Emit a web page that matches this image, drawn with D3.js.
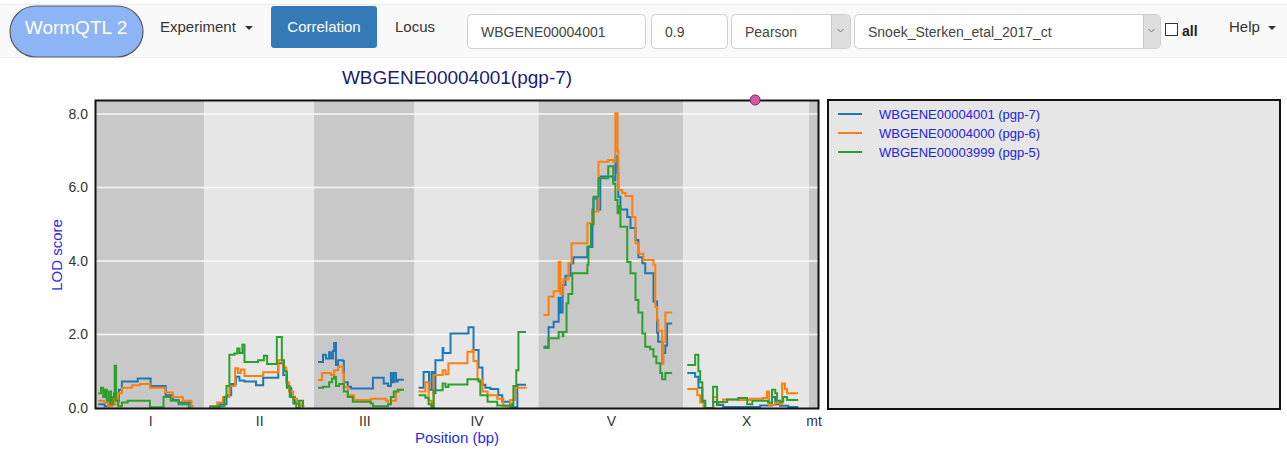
<!DOCTYPE html>
<html>
<head>
<meta charset="utf-8">
<script src="https://cdn.jsdelivr.net/npm/d3@7"></script>
<style>
  html, body { margin: 0; padding: 0; background: #ffffff; }
  svg { display: block; font-family: "Liberation Sans", Arial, sans-serif; }
</style>
</head>
<body>
<svg id="chart" width="1287" height="449"></svg>
<script>
// ---------------- DATA ----------------
const chromNames = ["I", "II", "III", "IV", "V", "X", "mt"];
const chromLengths = [15.07, 15.28, 14.0, 17.25, 20.15, 17.5, 1.25]; // Mb (display lengths)
const yTicks = [0, 2, 4, 6, 8];
const yTickLabels = ["0.0", "2.0", "4.0", "6.0", "8.0"];
const seriesLabels = ["WBGENE00004001 (pgp-7)", "WBGENE00004000 (pgp-6)", "WBGENE00003999 (pgp-5)"];
const seriesColors = ["#1f77b4", "#ff7f0e", "#2ca02c"];
const titleText = "WBGENE00004001(pgp-7)";
const markerChrom = "X";
const markerPos = 10.0; // Mb on chromosome X

// LOD profiles per chromosome: [position within chromosome (Mb), LOD]
const lodPgp7 = [
  [[0.3,0.1],[1.2,0.05],[1.8,0.3],[2.1,0.1],[2.5,0.4],[2.8,0.2],[3.2,0.5],[3.6,0.72],[5.8,0.8],[7.6,0.6],[9.7,0.35],[10.7,0.22],[11.5,0.15],[13.2,0.05],[13.5,0.05]],
  [[0.7,0.02],[2.1,0.1],[3.1,0.35],[3.75,0.65],[4.4,0.85],[4.9,0.75],[5.6,0.72],[7.2,0.62],[8.2,0.82],[10.3,1.22],[11.0,0.9],[11.5,0.55],[12.1,0.3],[12.6,0.12],[13.2,0.05],[13.9,0.05]],
  [[0.55,1.25],[1.25,1.45],[1.65,1.35],[2.1,1.52],[2.35,1.35],[2.65,1.55],[2.8,1.77],[3.05,1.17],[3.35,1.3],[4.0,1.28],[4.15,0.7],[4.7,0.58],[5.15,0.53],[8.2,0.82],[9.7,0.67],[10.3,0.6],[10.7,0.95],[10.9,0.7],[11.1,0.95],[11.4,0.72],[11.65,0.77],[12.5,0.77]],
  [[0.55,0.55],[1.25,0.98],[2.0,0.5],[2.35,0.98],[2.65,0.4],[2.9,1.3],[3.9,1.63],[4.0,1.5],[5.0,2.03],[7.5,2.2],[8.2,1.58],[8.9,1.1],[9.45,0.63],[9.85,0.55],[10.55,0.52],[11.65,0.35],[12.2,0.17],[13.3,0.1],[13.6,0.02],[14.3,0.63],[15.5,0.63]],
  [[0.7,1.67],[1.4,2.2],[2.1,2.35],[2.8,3.0],[3.05,2.6],[3.35,3.35],[3.75,3.6],[4.45,3.94],[4.85,4.1],[6.8,4.38],[7.5,5.4],[7.65,5.7],[8.2,5.4],[8.6,6.3],[10.4,6.2],[10.7,6.85],[11.0,6.4],[11.1,5.75],[11.4,5.4],[12.35,5.2],[12.8,4.9],[13.5,4.57],[13.9,4.1],[14.45,3.94],[14.85,3.67],[16.0,2.9],[16.5,2.05],[16.65,1.8],[17.2,1.22],[17.35,1.5],[17.65,1.7],[17.9,2.3],[18.6,2.3]],
  [[0.55,0.95],[1.65,0.85],[2.1,0.55],[2.65,0.2],[3.05,0.0],[4.15,0.16],[4.7,0.08],[5.55,0.03],[10.7,0.07],[12.35,0.3],[12.8,0.1],[13.45,0.06],[14.6,0.03],[16.0,0.03]],
  []
];
const lodPgp6 = [
  [[0.3,0.2],[1.1,0.15],[1.7,0.05],[2.2,0.3],[2.6,0.1],[3.1,0.4],[3.6,0.55],[5.0,0.62],[6.1,0.65],[7.5,0.55],[9.6,0.42],[10.7,0.3],[12.1,0.2],[13.3,0.05],[13.6,0.05]],
  [[0.7,0.03],[1.8,0.15],[2.6,0.3],[3.5,0.6],[4.3,1.08],[4.7,0.95],[5.1,1.05],[5.6,0.87],[8.2,0.97],[10.3,1.3],[11.0,1.1],[11.4,0.7],[11.8,0.45],[12.4,0.25],[12.9,0.12],[13.5,0.05],[13.9,0.05]],
  [[0.55,0.76],[1.1,0.95],[2.35,0.9],[2.8,1.03],[3.35,1.12],[4.0,0.95],[4.15,0.58],[4.7,0.35],[5.55,0.22],[7.9,0.25],[10.0,0.2],[10.3,0.1],[10.7,0.2],[11.4,0.45],[11.8,0.5],[12.5,0.5]],
  [[0.55,0.45],[1.5,0.7],[1.95,0.2],[2.35,0.05],[2.65,0.9],[3.9,1.03],[4.3,0.92],[4.7,1.22],[7.35,1.53],[8.05,1.58],[8.2,1.28],[8.75,0.76],[9.45,0.45],[10.15,0.35],[11.5,0.25],[12.35,0.05],[13.3,0.22],[14.0,0.55],[15.6,0.55]],
  [[0.7,2.53],[1.4,3.03],[2.1,3.18],[2.8,3.97],[3.05,3.1],[3.45,3.5],[4.15,3.94],[4.6,4.48],[6.8,5.03],[7.65,5.35],[8.35,6.7],[9.7,6.75],[10.4,6.7],[10.7,8.02],[11.0,7.0],[11.1,5.93],[11.65,5.85],[12.1,5.77],[13.05,5.2],[13.5,4.48],[13.9,4.2],[14.6,4.03],[16.0,3.9],[16.25,2.75],[16.5,2.4],[16.65,2.1],[17.2,1.2],[17.35,1.8],[17.65,2.6],[18.6,2.6]],
  [[0.55,0.52],[1.95,0.35],[2.35,0.15],[2.8,0.0],[4.15,0.3],[4.7,0.15],[5.55,0.23],[7.65,0.22],[9.3,0.25],[11.1,0.27],[11.65,0.45],[11.95,0.08],[12.8,0.15],[13.45,0.1],[13.75,0.67],[14.15,0.52],[14.45,0.4],[16.0,0.4]],
  []
];
const lodPgp5 = [
  [[0.3,0.4],[0.7,0.55],[1.0,0.3],[1.25,0.5],[1.5,0.2],[1.8,0.45],[2.1,0.1],[2.4,0.3],[2.6,1.15],[2.8,0.2],[3.1,0.05],[3.6,0.15],[4.4,0.2],[7.5,0.02],[9.4,0.3],[10.4,0.2],[11.5,0.1],[12.9,0.0],[13.2,0.0]],
  [[0.7,0.05],[2.4,0.05],[2.8,0.3],[3.1,0.6],[3.5,1.45],[4.2,1.48],[4.6,1.62],[4.9,1.5],[5.3,1.72],[5.6,1.25],[7.5,1.3],[8.3,1.42],[8.75,1.2],[10.1,1.93],[10.8,1.3],[11.1,1.0],[11.5,0.6],[11.9,0.3],[12.4,0.12],[12.8,0.0],[13.2,0.2],[13.75,0.05],[13.9,0.05]],
  [[0.55,0.55],[1.25,0.58],[2.1,0.7],[2.5,0.8],[2.8,0.85],[3.05,0.6],[3.5,0.65],[4.15,0.45],[4.7,0.3],[5.4,0.17],[7.9,0.12],[8.2,0.05],[10.3,0.1],[10.7,0.3],[11.1,0.45],[11.65,0.5],[12.5,0.5]],
  [[0.55,0.35],[1.5,0.28],[1.95,0.1],[2.35,0.0],[2.65,0.48],[3.9,0.67],[4.3,0.57],[4.7,0.64],[7.35,0.78],[8.9,0.72],[9.15,0.35],[10.15,0.17],[11.5,0.07],[13.3,0.02],[13.75,0.6],[14.15,1.03],[14.45,2.07],[15.5,2.07]],
  [[0.7,1.63],[1.4,1.9],[2.8,2.07],[3.35,1.95],[3.45,2.07],[3.9,2.85],[4.15,3.1],[4.7,3.67],[6.8,3.9],[6.95,4.4],[7.3,5.0],[7.65,5.75],[8.35,6.25],[9.7,6.58],[10.4,6.1],[10.7,5.66],[11.0,5.3],[11.1,5.5],[11.4,4.93],[12.35,3.97],[12.8,3.67],[13.5,2.94],[13.9,2.6],[14.45,2.03],[14.85,1.67],[15.55,1.6],[16.0,1.4],[16.4,1.22],[16.95,0.95],[17.2,0.78],[17.65,0.95],[18.6,0.95]],
  [[0.55,1.17],[1.65,1.45],[2.1,1.0],[2.35,0.7],[2.65,0.17],[3.05,0.0],[4.15,0.58],[4.7,0.1],[4.85,0.16],[6.1,0.23],[7.65,0.27],[8.9,0.1],[9.6,0.2],[11.8,0.15],[12.35,0.5],[12.8,0.4],[13.05,0.2],[13.45,0.17],[13.9,0.3],[14.45,0.22],[16.0,0.22]],
  []
];
const seriesData = [lodPgp7, lodPgp6, lodPgp5];

// ---------------- LAYOUT ----------------
const svg = d3.select("#chart");
const W = 1287, H = 449;
const plot = { left: 96, right: 818, top: 101, bottom: 408 };

// ---------------- NAVBAR ----------------
const nav = svg.append("g");
nav.append("rect").attr("x", 0).attr("y", 4).attr("width", W).attr("height", 54).attr("fill", "#f9f9f9");
nav.append("line").attr("x1", 0).attr("x2", W).attr("y1", 4.5).attr("y2", 4.5).attr("stroke", "#ececec");
nav.append("line").attr("x1", 0).attr("x2", W).attr("y1", 57.5).attr("y2", 57.5).attr("stroke", "#ececec");

nav.append("rect").attr("x", 10).attr("y", 6).attr("width", 133).attr("height", 51).attr("rx", 26).attr("ry", 25.5)
  .attr("fill", "#8db4f5").attr("stroke", "#5a5a66").attr("stroke-width", 1.2);
nav.append("text").attr("x", 76).attr("y", 34).attr("text-anchor", "middle").attr("fill", "#ffffff")
  .attr("font-size", 19).text("WormQTL 2");

nav.append("text").attr("x", 160).attr("y", 32).attr("fill", "#333").attr("font-size", 15).text("Experiment");
nav.append("path").attr("d", "M245,26 l8,0 l-4,4 z").attr("fill", "#333");

nav.append("rect").attr("x", 271).attr("y", 6).attr("width", 106).attr("height", 42).attr("rx", 3).attr("fill", "#337ab7");
nav.append("text").attr("x", 324).attr("y", 32).attr("text-anchor", "middle").attr("fill", "#fff").attr("font-size", 15).text("Correlation");

nav.append("text").attr("x", 395).attr("y", 32).attr("fill", "#333").attr("font-size", 15).text("Locus");

function box(x, w, txt, arrowW) {
  nav.append("rect").attr("x", x + 0.5).attr("y", 14.5).attr("width", w).attr("height", 34).attr("rx", 4)
    .attr("fill", "#fff").attr("stroke", "#cfcfcf");
  if (arrowW) {
    nav.append("rect").attr("x", x + w - arrowW + 0.5).attr("y", 15).attr("width", arrowW - 0.5).attr("height", 33)
      .attr("fill", "#dedede");
    nav.append("line").attr("x1", x + w - arrowW + 0.5).attr("x2", x + w - arrowW + 0.5).attr("y1", 15).attr("y2", 48).attr("stroke", "#c6c6c6");
    nav.append("path").attr("d", `M${x + w - arrowW / 2 - 3},29 l3,3 l3,-3`).attr("fill", "none").attr("stroke", "#777");
  }
  nav.append("text").attr("x", x + 14).attr("y", 37).attr("fill", "#444").attr("font-size", 14).text(txt);
}
box(467, 178, "WBGENE00004001", 0);
box(651, 76, "0.9", 0);
box(731, 119, "Pearson", 19);
box(854, 306, "Snoek_Sterken_etal_2017_ct", 17);

nav.append("rect").attr("x", 1165.5).attr("y", 23.5).attr("width", 12).attr("height", 12).attr("fill", "#fff").attr("stroke", "#333");
nav.append("text").attr("x", 1182).attr("y", 36).attr("fill", "#222").attr("font-size", 14).attr("font-weight", "bold").text("all");
nav.append("text").attr("x", 1229).attr("y", 32).attr("fill", "#333").attr("font-size", 15).text("Help");
nav.append("path").attr("d", "M1268,26 l8,0 l-4,4 z").attr("fill", "#333");

// ---------------- SCALES ----------------
const chromStarts = [];
let acc = 0;
chromLengths.forEach(l => { chromStarts.push(acc); acc += l; });
const total = acc;
const x = d3.scaleLinear().domain([0, total]).range([plot.left, plot.right]);
const y = d3.scaleLinear().domain([0, 8]).range([plot.bottom, 114]);

// ---------------- PLOT ----------------
const g = svg.append("g");
chromNames.forEach((c, i) => {
  g.append("rect").attr("x", x(chromStarts[i])).attr("y", plot.top)
    .attr("width", x(chromStarts[i] + chromLengths[i]) - x(chromStarts[i]))
    .attr("height", plot.bottom - plot.top)
    .attr("fill", i % 2 === 0 ? "#c8c8c8" : "#e6e6e6");
});

g.selectAll(".grid").data(yTicks.filter(t => t > 0)).enter().append("line")
  .attr("x1", plot.left).attr("x2", plot.right)
  .attr("y1", d => y(d)).attr("y2", d => y(d))
  .attr("stroke", "#ffffff").attr("stroke-opacity", 0.85).attr("stroke-width", 1.5);

const line = d3.line().x(d => d[0]).y(d => y(d[1])).curve(d3.curveStepAfter);
seriesData.forEach((series, s) => {
  series.forEach((pts, ci) => {
    if (!pts.length) return;
    const coords = pts.map(p => [x(chromStarts[ci] + p[0]), p[1]]);
    g.append("path").attr("d", line(coords)).attr("fill", "none")
      .attr("stroke", seriesColors[s]).attr("stroke-width", 2).attr("stroke-linejoin", "miter");
  });
});

// frame
g.append("rect").attr("x", plot.left - 0.5).attr("y", plot.top - 0.5)
  .attr("width", plot.right - plot.left + 1).attr("height", plot.bottom - plot.top + 1)
  .attr("fill", "none").attr("stroke", "#111").attr("stroke-width", 2);

// marker
const mi = chromNames.indexOf(markerChrom);
g.append("circle").attr("cx", x(chromStarts[mi] + markerPos)).attr("cy", plot.top - 1).attr("r", 5)
  .attr("fill", "#d45aa8").attr("stroke", "#6e2a5e").attr("stroke-width", 1);

// y axis labels
const yAxis = d3.axisLeft(y).tickValues(yTicks).tickFormat((d, i) => yTickLabels[i]).tickSize(0).tickPadding(7);
const ya = svg.append("g").attr("transform", `translate(${plot.left - 1},0)`).call(yAxis);
ya.select(".domain").remove();
ya.selectAll("text").attr("font-size", 14).attr("fill", "#333").attr("font-family", "Liberation Sans, Arial, sans-serif");

// x axis labels at chromosome centres
const xa = svg.append("g").attr("transform", `translate(0,${plot.bottom + 1})`);
const xCenters = chromNames.map((c, i) => chromStarts[i] + chromLengths[i] / 2);
const xAxis = d3.axisBottom(x).tickValues(xCenters).tickFormat((d, i) => chromNames[i]).tickSize(0).tickPadding(7);
xa.call(xAxis);
xa.select(".domain").remove();
xa.selectAll("text").attr("font-size", 14).attr("fill", "#333").attr("font-family", "Liberation Sans, Arial, sans-serif");

svg.append("text").attr("x", 457).attr("y", 443).attr("text-anchor", "middle").attr("fill", "#2a2ae6")
  .attr("font-size", 15).text("Position (bp)");
svg.append("text").attr("transform", "translate(62,255) rotate(-90)").attr("text-anchor", "middle").attr("fill", "#2a2ae6")
  .attr("font-size", 15).text("LOD score");

svg.append("text").attr("x", 457).attr("y", 84).attr("text-anchor", "middle").attr("fill", "#1b1b78")
  .attr("font-size", 19).text(titleText);

// ---------------- LEGEND ----------------
const lg = svg.append("g");
lg.append("rect").attr("x", 828).attr("y", 100).attr("width", 452).attr("height", 309)
  .attr("fill", "#e6e6e6").attr("stroke", "#111").attr("stroke-width", 2);
seriesLabels.forEach((lab, i) => {
  const yy = 114 + i * 19;
  lg.append("line").attr("x1", 838).attr("x2", 862).attr("y1", yy).attr("y2", yy)
    .attr("stroke", seriesColors[i]).attr("stroke-width", 2);
  lg.append("text").attr("x", 879).attr("y", yy + 5).attr("fill", "#2323e0").attr("font-size", 13).text(lab);
});
</script>
</body>
</html>
